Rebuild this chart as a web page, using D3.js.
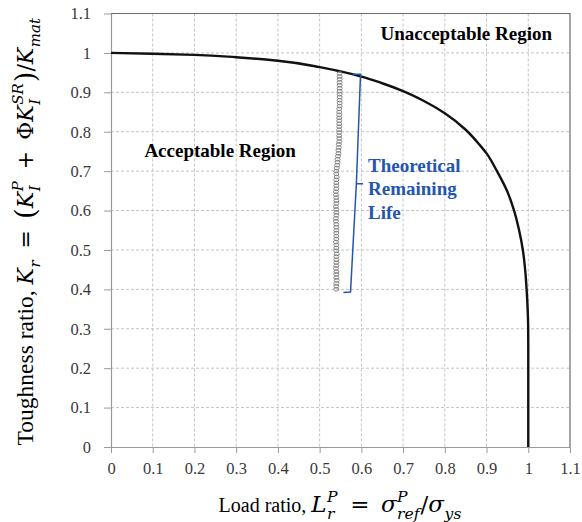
<!DOCTYPE html>
<html>
<head>
<meta charset="utf-8">
<script src="https://cdn.jsdelivr.net/npm/d3@7"></script>
<style>
  body { margin: 0; background: #fff; }
  text { font-family: "Liberation Serif", "Times New Roman", serif; }
</style>
</head>
<body>
<div id="chart"></div>
<script>
// failure assessment curve
var curveLr = [0, 0.1, 0.2, 0.3, 0.4, 0.5, 0.55, 0.6, 0.65, 0.7, 0.75, 0.8, 0.85, 0.884, 0.9, 0.925, 0.949, 0.966, 0.978, 0.987, 0.9925, 0.996, 0.9985, 0.9998, 1.0, 1.0];
var curveKr = [1.000, 0.998, 0.995, 0.989, 0.980, 0.964, 0.953, 0.940, 0.923, 0.903, 0.878, 0.847, 0.805, 0.766, 0.745, 0.700, 0.650, 0.600, 0.550, 0.500, 0.450, 0.400, 0.350, 0.300, 0.250, 0];

// assessment points
var pointKr = [0.400, 0.408, 0.415, 0.423, 0.430, 0.438, 0.445, 0.453, 0.460, 0.468, 0.475, 0.483, 0.490, 0.498, 0.505, 0.513, 0.520, 0.528, 0.535, 0.543, 0.550, 0.558, 0.565, 0.573, 0.580, 0.588, 0.595, 0.603, 0.610, 0.618, 0.625, 0.633, 0.640, 0.648, 0.655, 0.663, 0.670, 0.678, 0.685, 0.693, 0.700,
  0.708, 0.715, 0.723, 0.730, 0.738, 0.745, 0.753, 0.760, 0.768, 0.775, 0.783, 0.790, 0.798,
  0.805, 0.813, 0.820, 0.828, 0.835, 0.843, 0.850, 0.858, 0.865, 0.873, 0.880, 0.888, 0.895, 0.903, 0.910, 0.918, 0.925, 0.933, 0.940, 0.948];
var pointLr = [0.540, 0.540, 0.540, 0.541, 0.540, 0.540, 0.540, 0.539, 0.540, 0.540, 0.540, 0.540, 0.541, 0.540, 0.540, 0.540, 0.539, 0.540, 0.540, 0.540, 0.540, 0.540, 0.540, 0.539, 0.539, 0.540, 0.540, 0.540, 0.539, 0.540, 0.540, 0.540, 0.539, 0.539, 0.540, 0.540, 0.540, 0.540, 0.541, 0.540, 0.540,
  0.541, 0.542, 0.543, 0.543, 0.544, 0.545, 0.545, 0.546, 0.546, 0.547, 0.547, 0.547, 0.547,
  0.547, 0.547, 0.547, 0.547, 0.547, 0.547, 0.547, 0.547, 0.548, 0.548, 0.548, 0.548, 0.548, 0.548, 0.548, 0.548, 0.548, 0.548, 0.548, 0.548];

// "Theoretical Remaining Life" bracket
var bracketLr = [0.579, 0.598, 0.588, 0.574, 0.557];
var bracketKr = [0.946, 0.946, 0.668, 0.393, 0.392];
var notchLr = [0.588, 0.604];
var notchKr = [0.668, 0.668];

var tickValues = [0, 0.1, 0.2, 0.3, 0.4, 0.5, 0.6, 0.7, 0.8, 0.9, 1, 1.1];

var svgWidth = 582;
var svgHeight = 522;

var margin = { top: 13.5, right: 12, bottom: 75, left: 111 };
var width = svgWidth - margin.left - margin.right;
var height = svgHeight - margin.top - margin.bottom;

var svg = d3.select('#chart')
    .append('svg')
    .attr('width', svgWidth)
    .attr('height', svgHeight);

var chartGroup = svg.append('g')
    .attr('transform', `translate(${margin.left}, ${margin.top})`);

// Step 1: scales
var xScale = d3.scaleLinear().domain([0, 1.1]).range([0, width]);
var yScale = d3.scaleLinear().domain([0, 1.1]).range([height, 0]);

// Step 2: dashed grid
chartGroup.append('g')
    .selectAll('line')
    .data(tickValues.slice(1, -1))
    .enter()
    .append('line')
    .attr('x1', d => xScale(d))
    .attr('x2', d => xScale(d))
    .attr('y1', 0)
    .attr('y2', height)
    .attr('stroke', '#c4c4c4')
    .attr('stroke-dasharray', '3,2');

chartGroup.append('g')
    .selectAll('line')
    .data(tickValues.slice(1, -1))
    .enter()
    .append('line')
    .attr('y1', d => yScale(d))
    .attr('y2', d => yScale(d))
    .attr('x1', 0)
    .attr('x2', width)
    .attr('stroke', '#c4c4c4')
    .attr('stroke-dasharray', '3,2');

// frame (top and right)
chartGroup.append('path')
    .attr('d', `M0,${yScale(1.1)}H${xScale(1.1)}V${yScale(0)}`)
    .attr('fill', 'none')
    .attr('stroke', '#6a6a6a')
    .attr('stroke-width', 1.2);

// Step 3: axes
var fmt = d => d3.format('')(+d.toFixed(1));
var bottomAxis = d3.axisBottom(xScale).tickValues(tickValues).tickFormat(fmt).tickSize(6).tickSizeOuter(0).tickPadding(9);
var leftAxis = d3.axisLeft(yScale).tickValues(tickValues).tickFormat(fmt).tickSize(7).tickSizeOuter(0).tickPadding(13);

var xAxisG = chartGroup.append('g')
    .attr('transform', `translate(0, ${height})`)
    .call(bottomAxis);
var yAxisG = chartGroup.append('g')
    .call(leftAxis);

[xAxisG, yAxisG].forEach(function(g) {
    g.attr('font-family', 'Liberation Serif').attr('font-size', 16.5);
    g.select('.domain').attr('stroke', '#999').attr('stroke-width', 1.2);
    g.selectAll('.tick line').attr('stroke', '#999');
    g.selectAll('.tick text').attr('fill', '#3a3a3a');
});

// Step 4: curve
var curveData = curveLr.map((d, i) => [d, curveKr[i]]);
var line = d3.line()
    .x(d => xScale(d[0]))
    .y(d => yScale(d[1]))
    .curve(d3.curveMonotoneY);

chartGroup.append('path')
    .datum(curveData)
    .attr('d', line)
    .attr('fill', 'none')
    .attr('stroke', '#111')
    .attr('stroke-width', 2.4);

// Step 5: points
chartGroup.append('g')
    .selectAll('ellipse')
    .data(pointKr.map((d, i) => [pointLr[i], d]))
    .enter()
    .append('ellipse')
    .attr('cx', d => xScale(d[0]))
    .attr('cy', d => yScale(d[1]))
    .attr('rx', 2.5)
    .attr('ry', 1.8)
    .attr('fill', 'none')
    .attr('stroke', '#7a7a7a')
    .attr('stroke-width', 0.9);

// Step 6: bracket
var straight = d3.line().x(d => xScale(d[0])).y(d => yScale(d[1]));
chartGroup.append('path')
    .datum(bracketLr.map((d, i) => [d, bracketKr[i]]))
    .attr('d', straight)
    .attr('fill', 'none')
    .attr('stroke', '#2456b0')
    .attr('stroke-width', 1.5);
chartGroup.append('path')
    .datum(notchLr.map((d, i) => [d, notchKr[i]]))
    .attr('d', straight)
    .attr('fill', 'none')
    .attr('stroke', '#2456b0')
    .attr('stroke-width', 1.5);

// Step 7: annotations
var blueText = chartGroup.append('text')
    .attr('x', xScale(0.616))
    .attr('y', yScale(0.698))
    .attr('fill', '#2456b0')
    .style('font-weight', 'bold')
    .style('font-size', '19px');
['Theoretical', 'Remaining', 'Life'].forEach(function(t, i) {
    blueText.append('tspan')
        .attr('x', xScale(0.616))
        .attr('dy', i === 0 ? 0 : 23.5)
        .text(t);
});

chartGroup.append('text')
    .attr('x', xScale(0.08))
    .attr('y', yScale(0.735))
    .style('font-weight', 'bold')
    .style('font-size', '19px')
    .text('Acceptable Region');

chartGroup.append('text')
    .attr('x', xScale(1.057))
    .attr('y', yScale(1.033))
    .attr('text-anchor', 'end')
    .style('font-weight', 'bold')
    .style('font-size', '19px')
    .text('Unacceptable Region');

// Step 8: axis titles with math parts
var mathFont = '"DejaVu Serif", serif';

function mathLabel(g, parts, size, msize) {
    var x = 0;
    parts.forEach(function(p) {
        var fs = p.m ? msize : size;
        if (p.t !== undefined) {
            var t = g.append('text')
                .attr('x', x)
                .attr('y', p.s ? fs * 0.08 : 0)
                .style('font-family', p.m ? mathFont : null)
                .style('font-size', (fs * (p.s || 1)) + 'px')
                .style('font-style', p.i ? 'italic' : 'normal')
                .text(p.t);
            x += t.node().getComputedTextLength();
        } else {
            var w = 0;
            if (p.sup) {
                var s1 = g.append('text')
                    .attr('x', x + 0.5)
                    .attr('y', -msize * 0.45)
                    .style('font-family', mathFont)
                    .style('font-size', (msize * 0.68) + 'px')
                    .style('font-style', 'italic')
                    .text(p.sup);
                w = Math.max(w, s1.node().getComputedTextLength());
            }
            if (p.sub) {
                var s2 = g.append('text')
                    .attr('x', x + 0.5)
                    .attr('y', msize * 0.3)
                    .style('font-family', mathFont)
                    .style('font-size', (msize * 0.68) + 'px')
                    .style('font-style', 'italic')
                    .text(p.sub);
                w = Math.max(w, s2.node().getComputedTextLength());
            }
            x += w + 1.5;
        }
    });
    return x;
}

var xTitle = svg.append('g');
var xw = mathLabel(xTitle, [
    { t: 'Load ratio,\u00a0' },
    { t: 'L', i: 1, m: 1 },
    { sup: 'P', sub: 'r' },
    { t: '\u2002=\u2002', m: 1 },
    { t: 'σ', i: 1, m: 1 },
    { sup: 'P', sub: 'ref' },
    { t: '/', m: 1 },
    { t: 'σ', i: 1, m: 1 },
    { sub: 'ys' }
], 20, 23);
xTitle.attr('transform', `translate(${margin.left + width / 2 - xw / 2}, 512)`);

var yTitle = svg.append('g');
var yw = mathLabel(yTitle, [
    { t: 'Toughness ratio,\u00a0' },
    { t: 'K', i: 1, m: 1 },
    { sub: 'r' },
    { t: '\u2002=\u2002', m: 1 },
    { t: '(', s: 1.25, m: 1 },
    { t: 'K', i: 1, m: 1 },
    { sup: 'P', sub: 'I' },
    { t: '\u2002+\u2002', m: 1 },
    { t: 'Φ', m: 1 },
    { t: 'K', i: 1, m: 1 },
    { sup: 'SR', sub: 'I' },
    { t: ')', s: 1.25, m: 1 },
    { t: '/', m: 1 },
    { t: 'K', i: 1, m: 1 },
    { sub: 'mat' }
], 23.5, 22);
yTitle.attr('transform', `translate(33, ${margin.top + height / 2 + 1}) rotate(-90) translate(${-yw / 2}, 0)`);
</script>
</body>
</html>
